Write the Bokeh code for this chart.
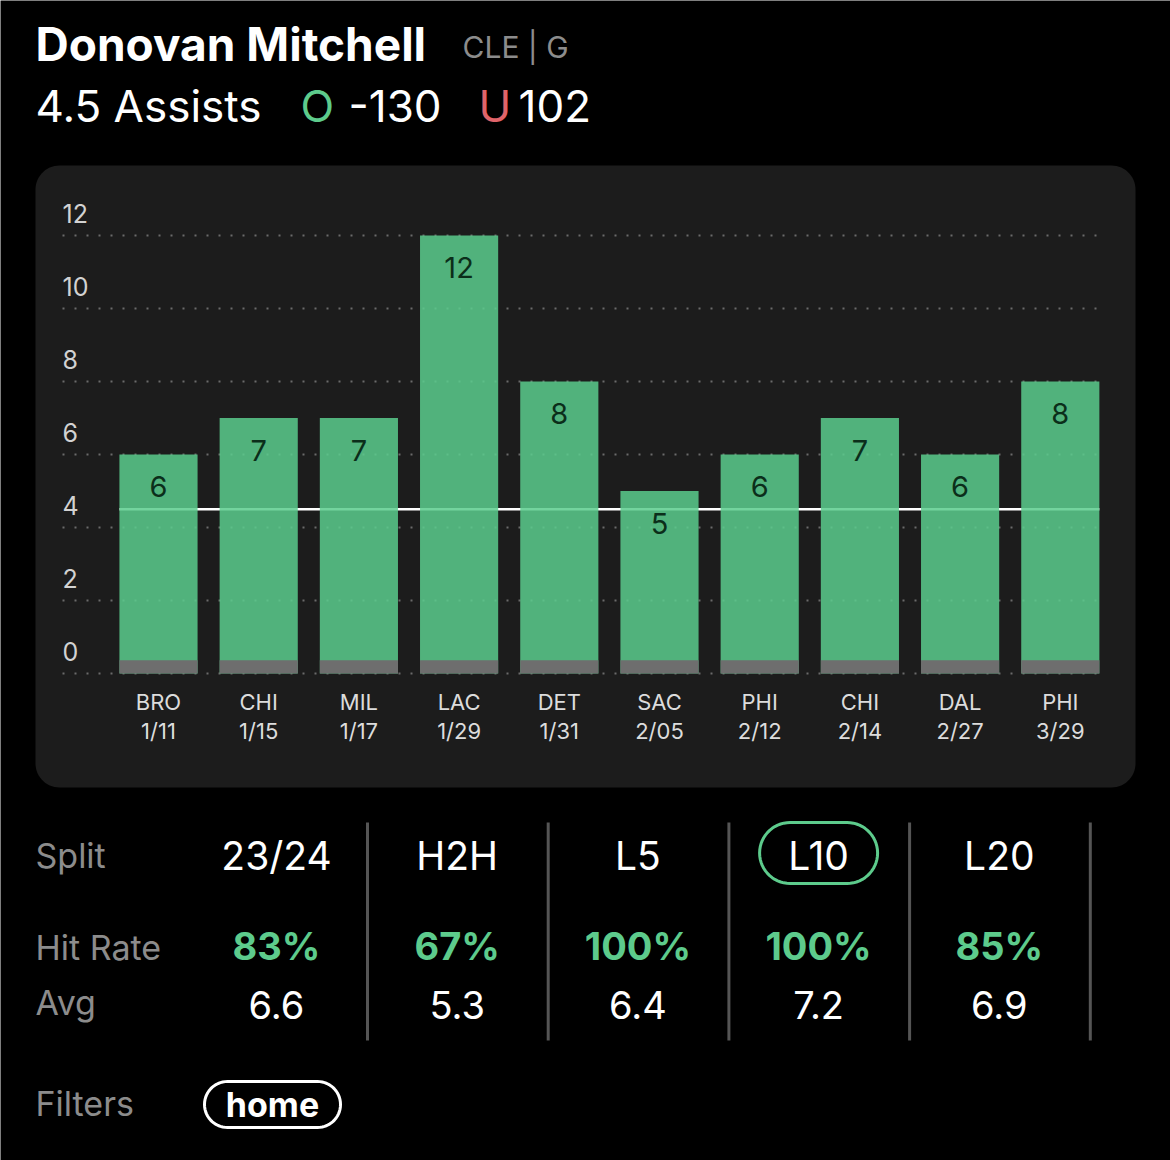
import numpy as np
from bokeh.plotting import figure
from bokeh.models import Range1d
from bokeh.core.properties import value
from bokeh.embed import file_html
from bokeh.resources import INLINE

# ---------------- data ----------------
player = "Donovan Mitchell"
team_pos = "CLE | G"
prop_line = 4.5
prop_name = "Assists"
over_odds = "-130"
under_odds = "102"

opponents = ["BRO", "CHI", "MIL", "LAC", "DET", "SAC", "PHI", "CHI", "DAL", "PHI"]
dates = ["1/11", "1/15", "1/17", "1/29", "1/31", "2/05", "2/12", "2/14", "2/27", "3/29"]
assists = [6, 7, 7, 12, 8, 5, 6, 7, 6, 8]
y_ticks = [0, 2, 4, 6, 8, 10, 12]

splits = ["23/24", "H2H", "L5", "L10", "L20"]
hit_rates = ["83%", "67%", "100%", "100%", "85%"]
averages = ["6.6", "5.3", "6.4", "7.2", "6.9"]
selected_split = "L10"
filters = ["home"]

# ---------------- styling ----------------
FONT = value("Inter")
W, H = 1170, 1160
BG = "#000000"
PANEL = "#1c1c1c"
GREEN_BAR = "#5bcd8d"
GREEN_TXT = "#5dcb8c"
RED_TXT = "#e0646a"
GRAY_TXT = "#8c8c8c"
SLOT = 100.2          # px per game slot
X0_PX = 158           # px center of first bar
Y0_PX = 673           # px (from top) of value 0
PX_PER_UNIT = 36.5

idx = np.arange(len(assists))

p = figure(
    width=W, height=H, output_backend="svg", toolbar_location=None,
    x_axis_location=None, y_axis_location=None, min_border=0,
    x_range=Range1d(-X0_PX / SLOT, (W - X0_PX) / SLOT),
    y_range=Range1d(-(H - Y0_PX) / PX_PER_UNIT, Y0_PX / PX_PER_UNIT),
    background_fill_color=BG, border_fill_color=BG, outline_line_color=None,
)
p.grid.visible = False
p.extra_x_ranges = {"px": Range1d(0, W)}
p.extra_y_ranges = {"px": Range1d(H, 0)}


def rounded(x0, y0, x1, y1, r, n=16):
    xs, ys = [], []
    for cx, cy, a0 in [(x0 + r, y0 + r, 180), (x1 - r, y0 + r, 270),
                       (x1 - r, y1 - r, 0), (x0 + r, y1 - r, 90)]:
        t = np.radians(np.linspace(a0, a0 + 90, n))
        xs.extend(cx + r * np.cos(t))
        ys.extend(cy + r * np.sin(t))
    return xs, ys


PX = dict(x_range_name="px", y_range_name="px")

# panel
px_, py_ = rounded(35, 165, 1135, 787, 24)
p.patch(px_, py_, fill_color=PANEL, line_color=None, **PX)

# grid lines (data y)
p.segment(x0=62, x1=1105, y0=y_ticks, y1=y_ticks, line_color="#6a6a6a",
          line_width=2, line_dash="2 10", x_range_name="px")
# y tick labels
p.text(x=62, y=y_ticks, text=[str(t) for t in y_ticks], x_range_name="px",
       text_font=FONT, text_font_size="25px", text_color="#d2d2d2",
       text_align="left", text_baseline="middle", y_offset=-22)

# prop line
bw = 0.78
p.segment(x0=idx[0] - bw / 2, x1=idx[-1] + bw / 2, y0=prop_line, y1=prop_line,
          line_color="#ffffff", line_width=2.5)

# bars
p.vbar(x=idx, top=assists, bottom=0, width=bw, fill_color=GREEN_BAR,
       fill_alpha=0.85, line_color=None)
p.vbar(x=idx, top=0.36, bottom=0, width=bw, fill_color="#6e6e6e", line_color=None)

# value labels
p.text(x=idx, y=assists, text=[str(a) for a in assists], text_font=FONT,
       text_font_size="29px", text_color="#0b2e1a", text_align="center",
       text_baseline="middle", y_offset=32)

# x labels
p.text(x=idx, y=701, text=opponents, y_range_name="px", text_font=FONT,
       text_font_size="22px", text_color="#dcdcdc", text_align="center",
       text_baseline="middle")
p.text(x=idx, y=730, text=dates, y_range_name="px", text_font=FONT,
       text_font_size="22px", text_color="#dcdcdc", text_align="center",
       text_baseline="middle")

# ---------------- header ----------------
p.text(x=[35], y=[43], text=[player], text_font=FONT, text_font_size="46px",
       text_font_style="bold", text_color="#ffffff", text_baseline="middle", **PX)
p.text(x=[462], y=[46], text=[team_pos], text_font=FONT, text_font_size="30px",
       text_color=GRAY_TXT, text_baseline="middle", **PX)
p.text(x=[35], y=[105], text=[f"{prop_line} {prop_name}"], text_font=FONT,
       text_font_size="44px", text_color="#ffffff", text_baseline="middle", **PX)
p.text(x=[300, 348, 478, 518], y=[105] * 4, text=["O", over_odds, "U", under_odds],
       text_font=FONT, text_font_size="44px",
       text_color=[GREEN_TXT, "#ffffff", RED_TXT, "#ffffff"],
       text_baseline="middle", **PX)

# ---------------- splits table ----------------
col_x = [276 + 180.7 * i for i in range(len(splits))]
p.text(x=[35, 35, 35, 35], y=[855, 947, 1002, 1103],
       text=["Split", "Hit Rate", "Avg", "Filters"], text_font=FONT,
       text_font_size="34px", text_color=GRAY_TXT, text_align="left",
       text_baseline="middle", **PX)
p.text(x=col_x, y=[855] * len(splits), text=splits, text_font=FONT,
       text_font_size="39px", text_color="#ffffff",
       text_align="center", text_baseline="middle", **PX)
p.text(x=col_x, y=[945] * len(splits), text=hit_rates, text_font=FONT,
       text_font_size="38px", text_font_style="bold", text_color=GREEN_TXT,
       text_align="center", text_baseline="middle", **PX)
p.text(x=col_x, y=[1004] * len(splits), text=averages, text_font=FONT,
       text_font_size="38px", text_color="#ffffff", text_align="center",
       text_baseline="middle", **PX)
sep_x = [c + 91 for c in col_x]
p.segment(x0=sep_x, x1=sep_x, y0=822, y1=1040, line_color="#555555",
          line_width=3, **PX)

sel = splits.index(selected_split)
sx, sy = rounded(col_x[sel] - 59, 822, col_x[sel] + 59, 883, 30.5)
p.patch(sx, sy, fill_color=None, line_color=GREEN_TXT, line_width=3, **PX)

# filters
hx, hy = rounded(204, 1081, 340, 1127, 23)
p.patch(hx, hy, fill_color=None, line_color="#ffffff", line_width=3, **PX)
p.text(x=[272], y=[1104], text=filters, text_font=FONT, text_font_size="34px",
       text_font_style="bold", text_color="#ffffff", text_align="center",
       text_baseline="middle", **PX)

open("out.html", "w").write(file_html(p, INLINE))
